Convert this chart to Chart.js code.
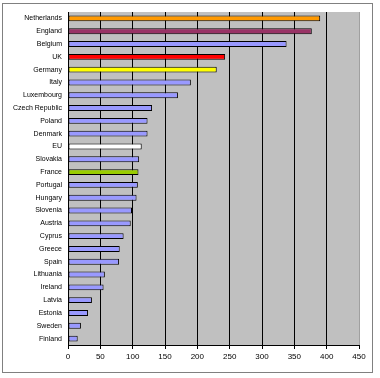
<!DOCTYPE html>
<html>
<head>
<meta charset="utf-8">
<script src="https://cdn.jsdelivr.net/npm/chart.js@4"></script>
<style>
  html, body { margin: 0; padding: 0; background: #fff; }
  #wrap { width: 380px; height: 378px; }
</style>
</head>
<body>
<div id="wrap"><canvas id="chart" width="380" height="378"></canvas></div>
<script>
const countries = ['Netherlands', 'England', 'Belgium', 'UK', 'Germany', 'Italy', 'Luxembourg',
  'Czech Republic', 'Poland', 'Denmark', 'EU', 'Slovakia', 'France', 'Portugal', 'Hungary',
  'Slovenia', 'Austria', 'Cyprus', 'Greece', 'Spain', 'Lithuania', 'Ireland', 'Latvia',
  'Estonia', 'Sweden', 'Finland'];
const values = [390, 377, 338, 243, 230, 190, 170, 130, 123, 123, 114, 110, 109, 108, 106,
  99, 97, 86, 80, 79, 57, 55, 37, 31, 20, 15];
const xTicks = [0, 50, 100, 150, 200, 250, 300, 350, 400, 450];

// highlighted bars, everything else is the default lilac
const highlight = {
  'Netherlands': '#ff9900',
  'England': '#993366',
  'UK': '#ff0000',
  'Germany': '#ffff00',
  'EU': '#ffffff',
  'France': '#99cc00'
};
const barColors = countries.map(c => highlight[c] || '#9999ff');

// grey plot area + outer frame like the spreadsheet chart
const backdrop = {
  id: 'backdrop',
  beforeDraw(chart) {
    const { ctx, chartArea: a } = chart;
    ctx.save();
    ctx.fillStyle = '#c0c0c0';
    ctx.fillRect(a.left, a.top, a.right - a.left, a.bottom - a.top);
    ctx.strokeStyle = '#808080';
    ctx.lineWidth = 1;
    ctx.strokeRect(2.5, 3.5, 370, 369);
    ctx.restore();
  }
};

new Chart(document.getElementById('chart'), {
  type: 'bar',
  data: {
    labels: countries,
    datasets: [{
      data: values,
      backgroundColor: barColors,
      borderColor: '#000000',
      borderWidth: 1,
      borderSkipped: false,
      barPercentage: 0.46,
      categoryPercentage: 1
    }]
  },
  options: {
    indexAxis: 'y',
    responsive: false,
    animation: false,
    layout: { padding: { top: 12, right: 21, left: 0, bottom: 0 } },
    plugins: {
      legend: { display: false },
      tooltip: { enabled: false }
    },
    scales: {
      x: {
        min: 0,
        max: 450,
        afterBuildTicks(scale) { scale.ticks = xTicks.map(v => ({ value: v })); },
        afterFit(scale) { scale.height = 33; },
        grid: {
          color: ctx => (ctx.tick && ctx.tick.value === 450 ? '#a0a0a0' : '#000000'),
          lineWidth: 1,
          drawTicks: true,
          tickLength: 4,
          tickColor: '#000000'
        },
        border: { display: true, color: '#000000' },
        ticks: {
          color: '#000000',
          padding: 3,
          font: { family: 'Liberation Sans, Arial', size: 8 }
        }
      },
      y: {
        afterFit(scale) { scale.width = 68; },
        grid: { display: false, drawTicks: false },
        border: { display: true, color: '#000000' },
        ticks: {
          color: '#000000',
          padding: 6,
          autoSkip: false,
          font: { family: 'Liberation Sans, Arial', size: 7 }
        }
      }
    }
  },
  plugins: [backdrop]
});
</script>
</body>
</html>
